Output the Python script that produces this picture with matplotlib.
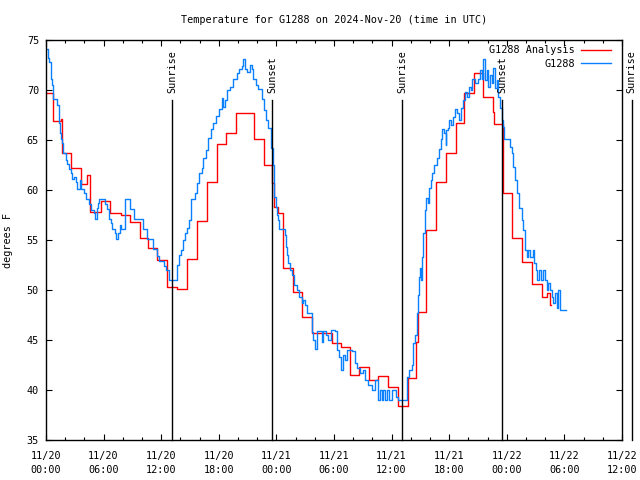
import matplotlib
matplotlib.use("Agg")
import matplotlib.pyplot as plt

# hours since 2024-11-20 00:00 UTC
analysis_hours = [0.0, 0.73, 1.56, 1.70, 2.64, 3.68, 4.30, 4.55, 5.70, 6.64, 7.78, 8.72,
                  9.76, 10.66, 11.59, 12.64, 13.68, 14.66, 15.76, 16.74, 17.78, 18.75,
                  19.79, 21.70, 22.74, 23.57, 23.78, 24.20, 24.65, 25.70, 26.64, 27.68,
                  29.76, 30.70, 31.67, 32.64, 33.68, 34.61, 35.66, 36.70, 37.68, 38.51,
                  38.72, 39.55, 40.59, 41.64, 42.68, 43.57, 44.58, 45.55, 46.60, 46.67,
                  47.57, 48.57, 49.61, 50.59, 51.64, 52.16, 52.50, 52.62]
analysis_temp = [69.7, 66.9, 67.1, 63.7, 62.2, 60.6, 61.5, 57.8, 58.9, 57.7, 57.5, 56.8,
                 55.2, 54.2, 53.0, 50.3, 50.1, 53.1, 56.9, 60.8, 64.6, 65.7,
                 67.7, 65.1, 62.5, 60.7, 58.3, 57.7, 52.2, 49.8, 47.3, 45.7,
                 44.7, 44.3, 41.5, 42.3, 41.0, 41.4, 40.3, 38.4, 41.2, 44.8,
                 47.8, 56.0, 60.8, 63.7, 66.7, 69.7, 71.7, 69.3, 67.8, 66.6,
                 59.7, 55.2, 52.8, 50.6, 49.3, 49.7, 48.5, 48.5]

station_hours = [0.0, 0.21, 0.35, 0.49, 0.63, 0.69, 0.76, 1.18, 1.32, 1.46, 1.53, 1.70,
                 1.81, 2.08, 2.22, 2.40, 2.64, 2.74, 2.92, 3.09, 3.26, 3.54, 3.68, 3.96,
                 4.13, 4.48, 4.65, 5.00, 5.10, 5.28, 5.42, 5.52, 6.15, 6.32, 6.56, 6.74,
                 6.91, 7.19, 7.33, 7.50, 7.67, 7.78, 8.23, 8.72, 9.17, 9.79, 10.07, 10.56,
                 11.18, 11.59, 11.80, 12.29, 12.50, 12.85, 13.68, 13.89, 14.03, 14.24,
                 14.48, 14.72, 14.93, 15.10, 15.52, 15.70, 15.97, 16.22, 16.39, 16.67,
                 16.91, 17.15, 17.43, 17.71, 18.06, 18.30, 18.45, 18.60, 18.89, 19.17,
                 19.44, 19.86, 20.14, 20.38, 20.56, 20.73, 20.97, 21.20, 21.42, 21.60,
                 21.88, 22.12, 22.47, 22.71, 22.92, 23.16, 23.44, 23.61, 23.75, 23.96,
                 24.10, 24.20, 24.31, 24.90, 25.00, 25.14, 25.24, 25.42, 25.59, 25.83,
                 26.11, 26.39, 26.63, 26.80, 26.98, 27.15, 27.67, 27.85, 28.02, 28.20,
                 28.54, 28.72, 28.89, 29.17, 29.41, 29.65, 30.10, 30.28, 30.56, 30.70,
                 30.90, 31.15, 31.39, 31.84, 32.19, 32.43, 32.71, 33.06, 33.23, 33.58,
                 33.93, 34.27, 34.62, 34.79, 34.97, 35.14, 35.31, 35.49, 35.76, 36.00,
                 36.46, 36.70, 37.64, 37.81, 38.09, 38.26, 38.44, 38.61, 38.72, 38.85,
                 38.96, 39.05, 39.13, 39.30, 39.48, 39.58, 39.75, 39.90, 40.10, 40.24,
                 40.45, 40.69, 40.94, 41.15, 41.28, 41.49, 41.63, 41.70, 41.84, 41.98,
                 42.19, 42.43, 42.60, 42.78, 43.02, 43.23, 43.47, 43.65, 43.82, 44.06,
                 44.27, 44.41, 44.69, 44.97, 45.21, 45.39, 45.55, 45.69, 45.90, 46.08,
                 46.25, 46.43, 46.60, 46.77, 46.95, 47.12, 47.29, 47.47, 47.57, 47.71,
                 48.33, 48.51, 48.68, 48.85, 49.10, 49.31, 49.55, 49.72, 49.90, 50.07,
                 50.24, 50.42, 50.70, 50.87, 51.04, 51.18, 51.39, 51.56, 51.80, 51.98,
                 52.15, 52.33, 52.50, 52.68, 52.85, 53.02, 53.20, 53.37, 53.54, 54.17]
station_temp = [74.1, 73.2, 72.8, 71.1, 70.5, 69.7, 69.1, 68.5, 66.7, 65.7, 65.1, 64.7,
                63.7, 63.0, 62.6, 62.1, 61.7, 61.1, 61.3, 60.8, 60.1, 61.0, 60.1, 59.7,
                59.1, 58.6, 58.0, 57.7, 57.1, 58.2, 58.7, 59.1, 58.6, 58.1, 57.1, 56.7,
                56.1, 55.7, 55.1, 55.7, 56.5, 56.1, 59.1, 58.1, 57.1, 57.1, 56.1, 55.1,
                54.1, 53.4, 52.9, 52.4, 52.0, 51.0, 52.5, 53.5, 54.0, 55.0,
                55.7, 56.2, 57.0, 59.1, 59.7, 60.7, 61.7, 62.2, 63.2, 64.0,
                65.2, 66.1, 66.7, 67.4, 68.1, 69.2, 68.3, 69.0, 70.0, 70.3,
                71.1, 71.7, 72.1, 72.4, 73.1, 72.1, 71.8, 72.5, 72.1, 71.1,
                70.5, 70.1, 69.1, 68.0, 67.0, 66.2, 64.2, 62.5, 59.3, 58.3,
                57.5, 57.0, 56.1, 55.5, 54.3, 53.5, 52.7, 52.0, 51.5, 50.5,
                50.0, 49.3, 48.7, 49.0, 48.5, 47.7, 45.8, 45.0, 44.1, 45.9,
                45.9, 44.8, 45.9, 45.5, 45.0, 46.0, 45.9, 44.0, 43.3, 42.0,
                43.5, 43.0, 44.0, 43.9, 42.7, 42.2, 41.7, 42.0, 41.0, 40.5,
                40.0, 41.0, 39.0, 40.0, 39.0, 40.0, 39.0, 40.0, 39.0, 40.0,
                39.3, 39.0, 41.3, 42.0, 42.5, 44.7, 45.5, 47.7, 49.5, 51.3,
                52.2, 51.0, 53.3, 55.7, 58.0, 59.2, 58.7, 60.2, 61.0, 61.7,
                62.5, 63.2, 64.1, 65.1, 66.1, 65.7, 64.5, 66.0, 66.2, 67.0,
                66.5, 67.3, 68.1, 67.7, 67.0, 68.2, 69.0, 69.8, 69.3, 70.3,
                70.0, 71.1, 70.7, 71.1, 72.0, 71.1, 73.1, 71.0, 72.0, 70.3,
                71.5, 70.7, 72.2, 70.2, 71.0, 69.3, 68.2, 67.0, 66.3, 65.1,
                64.3, 63.7, 62.3, 61.0, 59.7, 58.2, 57.0, 56.0, 54.0, 53.3,
                54.0, 53.3, 54.0, 52.7, 52.0, 51.0, 52.0, 51.0, 52.0, 51.0,
                50.0, 50.7, 50.0, 49.3, 48.7, 49.7, 48.2, 50.0, 48.0, 48.0]

sun_hours = [13.15, 23.57, 37.11, 47.53, 61.0]
sun_labels = ["Sunrise", "Sunset", "Sunrise", "Sunset", "Sunrise"]

tick_hours = list(range(0, 61, 6))
tick_labels = ["11/20\n00:00", "11/20\n06:00", "11/20\n12:00", "11/20\n18:00",
               "11/21\n00:00", "11/21\n06:00", "11/21\n12:00", "11/21\n18:00",
               "11/22\n00:00", "11/22\n06:00", "11/22\n12:00"]

FS = 7.3
plt.rcParams["font.family"] = "DejaVu Sans Mono"
plt.rcParams["font.size"] = FS

fig = plt.figure(figsize=(6.4, 4.8), dpi=100)
ax = fig.add_axes([46 / 640, 40 / 480, 576 / 640, 400 / 480])

ax.plot(analysis_hours, analysis_temp, drawstyle="steps-post", color="#ff0000",
        lw=1.0, label="G1288 Analysis")
ax.plot(station_hours, station_temp, drawstyle="steps-post", color="#0a80ff",
        lw=1.0, label="G1288")

for h, lab in zip(sun_hours, sun_labels):
    ax.plot([h, h], [35, 69], color="black", lw=1.0, clip_on=False)
    ax.annotate(lab, xy=(h, 69), xytext=(0, 5), textcoords="offset points",
                rotation=90, ha="center", va="bottom", annotation_clip=False)

ax.set_xlim(0, 60)
ax.set_ylim(35, 75)
ax.set_xticks(tick_hours)
ax.set_xticklabels(tick_labels, linespacing=1.45)
ax.set_xticks(range(0, 61, 2), minor=True)
ax.set_yticks(range(35, 76, 5))
ax.tick_params(which="both", direction="in", top=True, right=True, width=0.8)
ax.tick_params(which="major", length=4)
ax.tick_params(axis="x", which="major", pad=8)
ax.tick_params(axis="y", which="major", pad=5)
ax.tick_params(which="minor", length=2)
for sp in ax.spines.values():
    sp.set_linewidth(1.0)

ax.set_ylabel("degrees F", fontsize=FS, labelpad=10)
ax.set_title("Temperature for G1288 on 2024-Nov-20 (time in UTC)", fontsize=FS, pad=12)

leg = ax.legend(loc="upper right", frameon=False, markerfirst=False, fontsize=FS,
                handlelength=3.0, handletextpad=0.6, labelspacing=0.35,
                bbox_to_anchor=(0.99, 1.0), borderaxespad=0.1)

fig.savefig("out.png", dpi=100)
